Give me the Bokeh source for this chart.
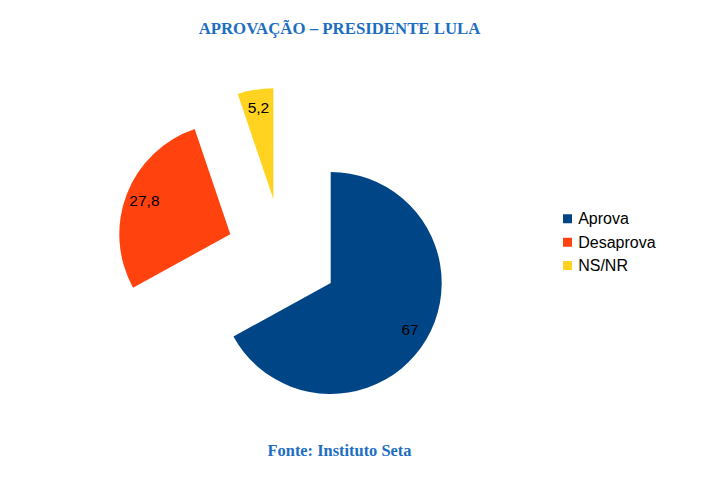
import math
from bokeh.plotting import figure
from bokeh.models import Range1d, ColumnDataSource
from bokeh.core.properties import value
from bokeh.embed import file_html
from bokeh.resources import INLINE

# ---- data ----
categories = ["Aprova", "Desaprova", "NS/NR"]
values = [67, 27.8, 5.2]
value_labels = ["67", "27,8", "5,2"]
colors = ["#004586", "#ff420e", "#ffd320"]
title_text = "APROVAÇÃO – PRESIDENTE LULA"
source_text = "Fonte: Instituto Seta"

# ---- layout constants (1 data unit = 1 px) ----
W, H = 685, 477
OFF = 8
CX, CY = 274, 231
R = 111
EXPLODE = 56
LABEL_R = 0.83 * R
TEXT_BLUE = "#1c6ec1"

total = sum(values)
starts, ends, xs, ys, lxs, lys = [], [], [], [], [], []
cum = 0.0
for v in values:
    t0 = cum / total * 2 * math.pi
    cum += v
    t1 = cum / total * 2 * math.pi
    mid = math.pi / 2 - (t0 + t1) / 2
    starts.append(math.pi / 2 - t0)
    ends.append(math.pi / 2 - t1)
    x = CX + EXPLODE * math.cos(mid)
    y = CY + EXPLODE * math.sin(mid)
    xs.append(x)
    ys.append(y)
    lxs.append(x + LABEL_R * math.cos(mid))
    lys.append(y + LABEL_R * math.sin(mid))

src = ColumnDataSource(dict(cat=categories, val=values, lab=value_labels, color=colors,
                            start=starts, end=ends, x=xs, y=ys, lx=lxs, ly=lys))

p = figure(width=W, height=H, output_backend="svg", toolbar_location=None,
           x_range=Range1d(-OFF, W - OFF), y_range=Range1d(OFF, H + OFF),
           x_axis_location=None, y_axis_location=None, min_border=0,
           outline_line_color=None, background_fill_color="white",
           border_fill_color="white")
p.grid.visible = False

p.wedge(x="x", y="y", radius=R, start_angle="start", end_angle="end",
        direction="clock", fill_color="color", line_color=None, source=src)

p.text(x="lx", y="ly", text="lab", source=src, text_font=value("Liberation Sans"),
       text_font_size="15.5px", text_color="black", text_align="center",
       text_baseline="middle")

# legend (manual)
LEG_X = 559
LEG_Y0 = 266.7
LEG_DY = 23.35
leg_y = [LEG_Y0 - i * LEG_DY for i in range(len(categories))]
leg_src = ColumnDataSource(dict(cat=categories, color=colors, y=leg_y,
                                x=[LEG_X] * len(categories),
                                tx=[LEG_X + 10.7] * len(categories)))
p.rect(x="x", y="y", width=9, height=9, fill_color="color", line_color=None, source=leg_src)
p.text(x="tx", y="y", text="cat", source=leg_src, text_font=value("Liberation Sans"),
       text_font_size="16px", text_color="black", text_align="left",
       text_baseline="middle")

# title & source
p.text(x=[331], y=[H - 19.5], text=[title_text], text_font=value("Liberation Serif"),
       text_font_style="bold", text_font_size="16.8px", text_color=TEXT_BLUE,
       text_align="center", text_baseline="middle")
p.text(x=[331], y=[H - 442], text=[source_text], text_font=value("Liberation Serif"),
       text_font_style="bold", text_font_size="16.4px", text_color=TEXT_BLUE,
       text_align="center", text_baseline="middle")

open("out.html", "w").write(file_html(p, INLINE))
